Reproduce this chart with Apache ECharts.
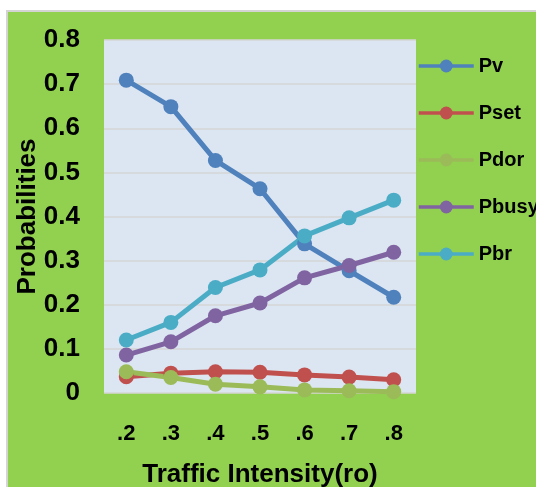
<!DOCTYPE html>
<html>
<head>
<meta charset="utf-8">
<script src="https://cdn.jsdelivr.net/npm/echarts@6/dist/echarts.min.js"></script>
<style>
html,body{margin:0;padding:0;background:#fff;}
#chart{width:536px;height:487px;}
</style>
</head>
<body>
<div id="chart"></div>
<script>
const categories = ['.2', '.3', '.4', '.5', '.6', '.7', '.8'];
const seriesNames = ['Pv', 'Pset', 'Pdor', 'Pbusy', 'Pbr'];
const Pv    = [0.709, 0.649, 0.527, 0.463, 0.338, 0.277, 0.217];
const Pset  = [0.037, 0.045, 0.048, 0.047, 0.041, 0.036, 0.030];
const Pdor  = [0.048, 0.035, 0.020, 0.014, 0.007, 0.005, 0.003];
const Pbusy = [0.086, 0.116, 0.175, 0.204, 0.261, 0.289, 0.319];
const Pbr   = [0.120, 0.160, 0.239, 0.279, 0.356, 0.397, 0.437];
const yTicks = [0, 0.1, 0.2, 0.3, 0.4, 0.5, 0.6, 0.7, 0.8];

const values = [Pv, Pset, Pdor, Pbusy, Pbr];
const colors = ['#4F81BD', '#C0504D', '#9BBB59', '#8064A2', '#4BACC6'];
const font = "'Liberation Sans', Arial, sans-serif";

const chart = echarts.init(document.getElementById('chart'), null, {renderer: 'canvas'});
chart.setOption({
  animation: false,
  backgroundColor: '#ffffff',
  graphic: [{
    type: 'rect', z: -100, silent: true,
    shape: {x: 7, y: 11, width: 540, height: 490},
    style: {fill: '#92D050', stroke: '#D4D4D4', lineWidth: 2}
  }],
  grid: {
    left: 104, top: 40, width: 312, height: 353,
    outerBoundsMode: 'none',
    containLabel: false,
    show: true, backgroundColor: '#DCE6F2', borderWidth: 0
  },
  legend: {
    orient: 'vertical',
    left: 417, top: 56,
    padding: 0,
    itemWidth: 55, itemHeight: 16, itemGap: 27,
    lineStyle: {width: 3.5},
    textStyle: {fontFamily: font, fontSize: 20, fontWeight: 'bold', color: '#000'},
    data: seriesNames
  },
  xAxis: {
    type: 'category',
    data: categories,
    boundaryGap: true,
    axisLine: {show: false},
    axisTick: {show: false},
    axisLabel: {fontFamily: font, fontSize: 22, fontWeight: 'bold', color: '#000', margin: 30},
    name: 'Traffic Intensity(ro)',
    nameLocation: 'middle',
    nameGap: 69,
    nameTextStyle: {fontFamily: font, fontSize: 26, fontWeight: 'bold', color: '#000'}
  },
  yAxis: {
    type: 'value',
    min: yTicks[0], max: yTicks[yTicks.length - 1], interval: 0.1,
    axisLine: {show: false},
    axisTick: {show: false},
    splitLine: {lineStyle: {color: '#D6D6D6', width: 1.5}},
    axisLabel: {
      fontFamily: font, fontSize: 26, fontWeight: 'bold', color: '#000', margin: 24,
      formatter: v => v === 0 ? '0' : v.toFixed(1)
    },
    name: 'Probabilities',
    nameLocation: 'middle',
    nameGap: 63,
    nameMoveOverlap: false,
    nameTextStyle: {fontFamily: font, fontSize: 26, fontWeight: 'bold', color: '#000'}
  },
  series: seriesNames.map((n, i) => ({
    name: n,
    type: 'line',
    data: values[i],
    symbol: 'circle',
    symbolSize: 15,
    color: colors[i],
    lineStyle: {width: 5, color: colors[i]},
    itemStyle: {color: colors[i]},
    clip: false
  }))
});
</script>
</body>
</html>
